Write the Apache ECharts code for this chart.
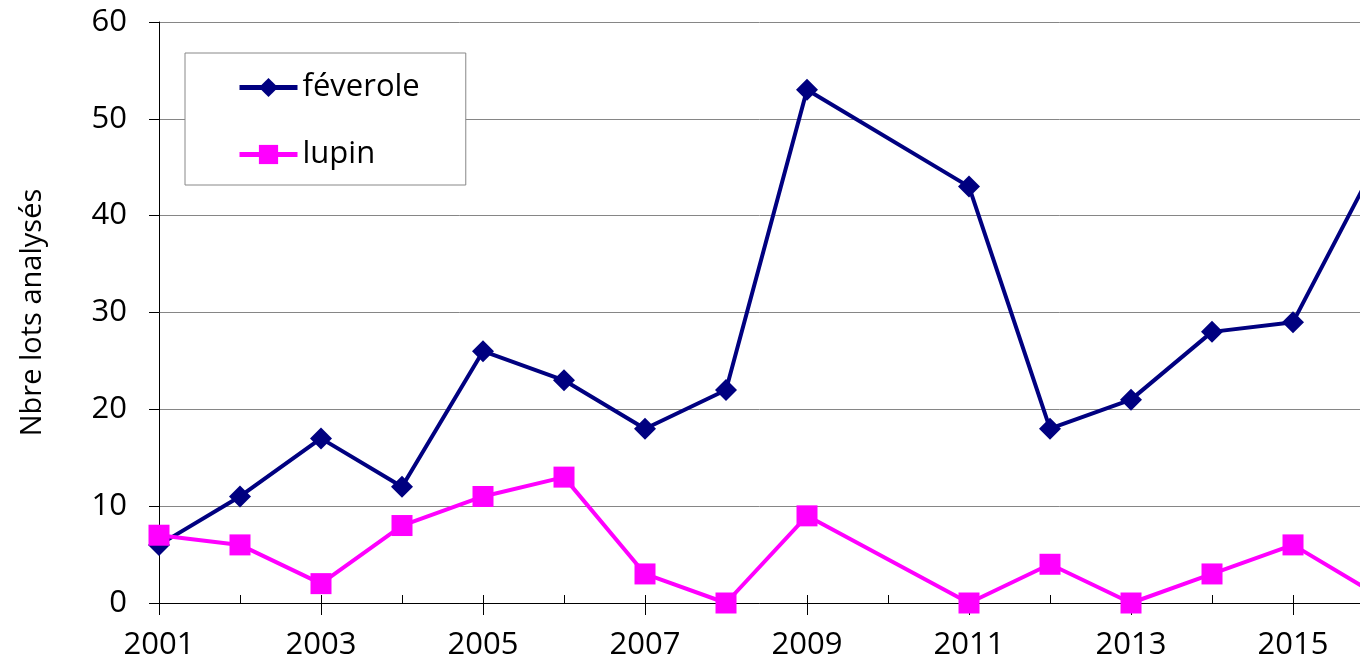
<!DOCTYPE html>
<html>
<head>
<meta charset="utf-8">
<script src="https://cdn.jsdelivr.net/npm/echarts@6/dist/echarts.min.js"></script>
<style>
  html, body { margin: 0; padding: 0; background: #fff; }
  #main { width: 1360px; height: 660px; }
</style>
</head>
<body>
<div id="main"></div>
<script>
// années (2010 absente)
var years = [2001, 2002, 2003, 2004, 2005, 2006, 2007, 2008, 2009, 2011, 2012, 2013, 2014, 2015, 2016]
var feverole = [6, 11, 17, 12, 26, 23, 18, 22, 53, 43, 18, 21, 28, 29, 45]
var lupin = [7, 6, 2, 8, 11, 13, 3, 0, 9, 0, 4, 0, 3, 6, 1]
var seriesNames = ['féverole', 'lupin']

var fontName = 'Open Sans'
var fs = 31
var xMin = 2001
var xMax = 2015.827   // le graphique est coupé à droite

function pairs (vals) {
    return years.map(function (y, i) { return [y, vals[i]] })
}

var myChart = echarts.init(document.getElementById('main'))
var option = {
    animation: false,
    textStyle: { fontFamily: fontName },
    grid: { left: 159, right: 0, top: 22, bottom: 57, containLabel: false, outerBoundsMode: 'none' },
    legend: {
        orient: 'vertical',
        left: 185,
        top: 53,
        padding: [19, 46, 15, 52],
        itemWidth: 58,
        itemHeight: 24,
        itemGap: 36,
        borderColor: '#888',
        borderWidth: 1,
        backgroundColor: '#fff',
        lineStyle: { width: 5 },
        textStyle: { fontFamily: fontName, fontSize: fs, color: '#000' },
        data: seriesNames
    },
    xAxis: [{
        type: 'value',
        min: xMin,
        max: xMax,
        interval: 2,
        position: 'bottom',
        axisLine: { show: true, lineStyle: { color: '#000', width: 1 } },
        axisTick: { show: true, length: 12, lineStyle: { color: '#000' } },
        axisLabel: {
            margin: 27, fontSize: fs, color: '#000', fontFamily: fontName,
            showMaxLabel: false,
            formatter: function (v) { return String(v) }
        },
        splitLine: { show: false }
    }, {
        type: 'value',
        min: xMin,
        max: xMax,
        interval: 1,
        position: 'bottom',
        axisLine: { show: false },
        axisTick: { show: true, inside: true, length: 8, lineStyle: { color: '#000' } },
        axisLabel: { show: false },
        splitLine: { show: false }
    }],
    yAxis: {
        type: 'value',
        min: 0,
        max: 60,
        interval: 10,
        name: 'Nbre lots analysés',
        nameLocation: 'middle',
        nameGap: 112,
        nameTextStyle: { fontSize: 29, color: '#000', fontFamily: fontName },
        axisLine: { show: true, lineStyle: { color: '#000', width: 1 } },
        axisTick: { show: true, length: 10, lineStyle: { color: '#000' } },
        axisLabel: { margin: 32, fontSize: fs, color: '#000', fontFamily: fontName },
        splitLine: { show: true, lineStyle: { color: '#868686', width: 1 } }
    },
    series: [{
        name: seriesNames[0],
        type: 'line',
        data: pairs(feverole),
        symbol: 'diamond',
        symbolSize: 22,
        lineStyle: { color: '#000080', width: 4 },
        itemStyle: { color: '#000080' }
    }, {
        name: seriesNames[1],
        type: 'line',
        data: pairs(lupin),
        symbol: 'rect',
        symbolSize: 21,
        lineStyle: { color: '#ff00ff', width: 4 },
        itemStyle: { color: '#ff00ff' }
    }]
}
myChart.setOption(option)
</script>
</body>
</html>
